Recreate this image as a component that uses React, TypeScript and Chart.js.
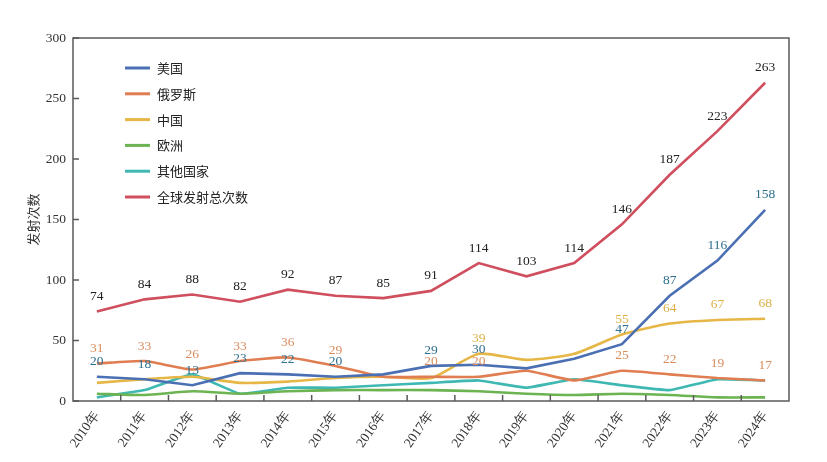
import { useEffect, useRef } from "react";
import { Chart, registerables } from "chart.js";

Chart.register(...registerables);

const years = [
  "2010年", "2011年", "2012年", "2013年", "2014年", "2015年", "2016年", "2017年",
  "2018年", "2019年", "2020年", "2021年", "2022年", "2023年", "2024年",
];

const usa = [20, 18, 13, 23, 22, 20, 22, 29, 30, 27, 35, 47, 87, 116, 158];
const russia = [31, 33, 26, 33, 36, 29, 20, 20, 20, 25, 17, 25, 22, 19, 17];
const china = [15, 18, 20, 15, 16, 19, 20, 19, 39, 34, 39, 55, 64, 67, 68];
const europe = [6, 5, 8, 6, 8, 9, 9, 9, 8, 6, 5, 6, 5, 3, 3];
const others = [3, 9, 22, 6, 11, 11, 13, 15, 17, 11, 18, 13, 9, 18, 17];
const total = [74, 84, 88, 82, 92, 87, 85, 91, 114, 103, 114, 146, 187, 223, 263];

// which points carry a value label (1 = show)
const usaLabels = [1, 1, 1, 1, 1, 1, 0, 1, 1, 0, 0, 1, 1, 1, 1];
const russiaLabels = [1, 1, 1, 1, 1, 1, 0, 1, 1, 0, 0, 1, 1, 1, 1];
const chinaLabels = [0, 0, 0, 0, 0, 0, 0, 0, 1, 0, 0, 1, 1, 1, 1];
const totalLabels = [1, 1, 1, 1, 1, 1, 1, 1, 1, 1, 1, 1, 1, 1, 1];

const yTicks = [0, 50, 100, 150, 200, 250, 300];

const serif = "'Liberation Serif', 'DejaVu Serif', serif";
const sans = "'Noto Sans CJK SC', 'Noto Sans', sans-serif";

const framePlugin = {
  id: "frame",
  afterDraw(chart: any) {
    const { ctx, chartArea } = chart;
    const { left, right, top, bottom } = chartArea;
    const x = chart.scales.x;
    const y = chart.scales.y;
    ctx.save();
    ctx.strokeStyle = "#5a5a5a";
    ctx.lineWidth = 1.5;
    ctx.strokeRect(left, top, right - left, bottom - top);
    // inward ticks
    ctx.beginPath();
    for (let i = 1; i < years.length; i++) {
      const px = (x.getPixelForTick(i - 1) + x.getPixelForTick(i)) / 2;
      ctx.moveTo(px, bottom);
      ctx.lineTo(px, bottom - 6);
    }
    yTicks.forEach((v) => {
      const py = y.getPixelForValue(v);
      ctx.moveTo(left, py);
      ctx.lineTo(left + 6, py);
    });
    ctx.stroke();
    ctx.restore();
  },
};

const valueLabelPlugin = {
  id: "valueLabels",
  afterDatasetsDraw(chart: any) {
    const { ctx } = chart;
    ctx.save();
    ctx.font = `13.5px ${serif}`;
    ctx.textAlign = "center";
    ctx.textBaseline = "middle";
    chart.data.datasets.forEach((ds: any, di: number) => {
      if (!ds.showLabels) return;
      const meta = chart.getDatasetMeta(di);
      ctx.fillStyle = ds.labelColor;
      meta.data.forEach((pt: any, i: number) => {
        if (!ds.showLabels[i]) return;
        ctx.fillText(String(ds.data[i]), pt.x, pt.y - 15);
      });
    });
    ctx.restore();
  },
};

const legendPlugin = {
  id: "innerLegend",
  afterDraw(chart: any) {
    const { ctx, chartArea } = chart;
    ctx.save();
    ctx.font = `13px ${sans}`;
    ctx.textBaseline = "middle";
    chart.data.datasets.forEach((ds: any, i: number) => {
      const yy = chartArea.top + 30 + i * 25.8;
      const x0 = chartArea.left + 52;
      ctx.strokeStyle = ds.borderColor;
      ctx.lineWidth = 3;
      ctx.beginPath();
      ctx.moveTo(x0, yy);
      ctx.lineTo(x0 + 25, yy);
      ctx.stroke();
      ctx.fillStyle = "#222";
      ctx.fillText(ds.label, x0 + 32, yy);
    });
    ctx.restore();
  },
};

export default function App() {
  const chartRef = useRef<HTMLCanvasElement>(null);
  const chartInstance = useRef<Chart | null>(null);

  useEffect(() => {
    if (!chartRef.current) return;
    const ctx = chartRef.current.getContext("2d");
    if (!ctx) return;
    if (chartInstance.current) chartInstance.current.destroy();

    const line = (label: string, data: number[], color: string, tension: number) => ({
      label,
      data,
      borderColor: color,
      backgroundColor: color,
      borderWidth: 2.6,
      pointRadius: 0,
      tension,
    });

    chartInstance.current = new Chart(ctx, {
      type: "line",
      data: {
        labels: years,
        datasets: [
          { ...line("美国", usa, "#4b6fb3", 0), showLabels: usaLabels, labelColor: "#2e6e8e" },
          { ...line("俄罗斯", russia, "#e07e52", 0.15), showLabels: russiaLabels, labelColor: "#d98b5c" },
          { ...line("中国", china, "#e6b746", 0.2), showLabels: chinaLabels, labelColor: "#dcb045" },
          line("欧洲", europe, "#6cb352", 0.2),
          line("其他国家", others, "#3fb8b3", 0.1),
          { ...line("全球发射总次数", total, "#cf4f5f", 0), showLabels: totalLabels, labelColor: "#222" },
        ] as any,
      },
      options: {
        responsive: true,
        maintainAspectRatio: false,
        animation: false,
        layout: { padding: { left: 21, top: 38, right: 38, bottom: 0 } },
        plugins: {
          legend: { display: false },
          tooltip: { enabled: false },
        },
        scales: {
          x: {
            offset: true,
            grid: { display: false, drawTicks: false },
            border: { display: false },
            ticks: {
              color: "#333",
              font: { family: serif, size: 13.5 },
              minRotation: 55,
              maxRotation: 55,
              padding: 7,
              autoSkip: false,
            },
            afterFit: (scale: any) => {
              scale.height = 61;
            },
          },
          y: {
            min: 0,
            max: 300,
            grid: { display: false, drawTicks: false },
            border: { display: false },
            ticks: {
              stepSize: 50,
              color: "#333",
              font: { family: serif, size: 13.5 },
              padding: 7,
            },
            title: {
              display: true,
              text: "发射次数",
              color: "#333",
              font: { family: sans, size: 13 },
            },
            afterFit: (scale: any) => {
              scale.width = 52;
            },
          },
        },
      },
      plugins: [framePlugin, valueLabelPlugin, legendPlugin],
    });

    return () => {
      if (chartInstance.current) {
        chartInstance.current.destroy();
        chartInstance.current = null;
      }
    };
  }, []);

  return (
    <div style={{ position: "absolute", left: 0, top: 0, width: 827, height: 462 }}>
      <canvas ref={chartRef}></canvas>
    </div>
  );
}
